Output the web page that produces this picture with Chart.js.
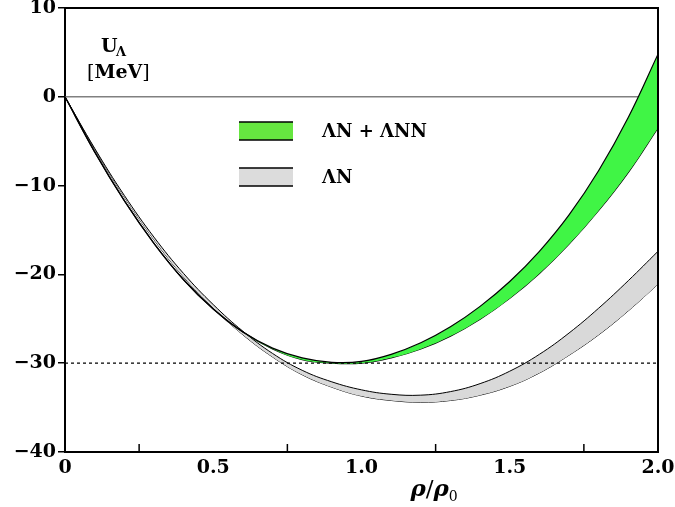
<!DOCTYPE html>
<html>
<head>
<meta charset="utf-8">
<script src="https://cdn.jsdelivr.net/npm/chart.js@4.4.1/dist/chart.umd.min.js"></script>
<style>
  html, body { margin: 0; padding: 0; background: #fff; }
  #wrap { width: 675px; height: 507px; }
</style>
</head>
<body>
<div id="wrap"><canvas id="myChart" width="675" height="507"></canvas></div>
<script>
// density rho/rho0
const rho = [0, 0.1, 0.2, 0.3, 0.4, 0.5, 0.6, 0.7, 0.8, 0.9, 1.0,
             1.1, 1.2, 1.3, 1.4, 1.5, 1.6, 1.7, 1.8, 1.9, 2.0];
// Lambda N + Lambda NN band (upper / lower edge), MeV
const lnnUpper = [0, -6.2, -11.7, -16.5, -20.6, -23.9, -26.5, -28.3, -29.4, -29.9, -29.8,
                  -29.0, -27.7, -25.9, -23.6, -20.8, -17.4, -13.3, -8.3, -2.3, 4.8];
const lnnLower = [0, -6.2, -11.7, -16.5, -20.6, -23.9, -26.5, -28.4, -29.6, -30.0, -30.0,
                  -29.4, -28.4, -26.95, -25.05, -22.7, -19.9, -16.6, -12.8, -8.5, -3.5];
// Lambda N band (upper / lower edge), MeV
const lnUpper = [0, -5.8, -11.1, -15.8, -19.9, -23.4, -26.4, -28.9, -30.8, -32.1, -33.0,
                 -33.5, -33.6, -33.2, -32.3, -30.9, -29.0, -26.6, -23.8, -20.7, -17.4];
const lnLower = [0, -5.9, -11.3, -16.1, -20.3, -23.8, -26.8, -29.3, -31.3, -32.7, -33.7,
                 -34.2, -34.4, -34.2, -33.6, -32.6, -31.1, -29.1, -26.8, -24.1, -21.1];
// reference lines
const refX = [0, 2];
const zeroLine = [0, 0];
const depthLine = [-30, -30];
// axis ticks
const xMinorTicks = [0.25, 0.75, 1.25, 1.75];

const FONT = "'DejaVu Serif', 'Liberation Serif', serif";
const pts = (xs, ys) => xs.map((x, i) => ({ x: x, y: ys[i] }));

const decorPlugin = {
  id: "decor",
  afterDraw(chart) {
    const ctx = chart.ctx;
    const a = chart.chartArea;
    const xs = chart.scales.x;
    ctx.save();
    // frame top + right
    ctx.strokeStyle = "#000";
    ctx.lineWidth = 2;
    ctx.beginPath();
    ctx.moveTo(a.left, a.top);
    ctx.lineTo(a.right, a.top);
    ctx.lineTo(a.right, a.bottom);
    ctx.stroke();
    // inner minor ticks on x axis
    ctx.lineWidth = 1.5;
    xMinorTicks.forEach(v => {
      const px = xs.getPixelForValue(v);
      ctx.beginPath();
      ctx.moveTo(px, a.bottom);
      ctx.lineTo(px, a.bottom - 8);
      ctx.stroke();
    });
    // y label
    ctx.fillStyle = "#000";
    ctx.textBaseline = "alphabetic";
    ctx.font = "bold 19px " + FONT;
    ctx.textAlign = "left";
    ctx.fillText("U", 101, 52);
    ctx.font = "bold 13px " + FONT;
    ctx.fillText("Λ", 116, 56);
    ctx.font = "19px " + FONT;
    const l1 = "[", l2 = "MeV", l3 = "]";
    let cx = 87;
    ctx.fillText(l1, cx, 78); cx += ctx.measureText(l1).width;
    ctx.font = "bold 19px " + FONT;
    ctx.fillText(l2, cx, 78); cx += ctx.measureText(l2).width;
    ctx.font = "19px " + FONT;
    ctx.fillText(l3, cx, 78);
    // x title rho/rho0
    const tx = xs.getPixelForValue(1.165);
    ctx.font = "italic bold 23px " + FONT;
    ctx.fillText("ρ", tx, 496);
    let w = ctx.measureText("ρ").width;
    ctx.font = "23px " + FONT;
    ctx.fillText("/", tx + w, 496);
    w += ctx.measureText("/").width;
    ctx.font = "italic bold 23px " + FONT;
    ctx.fillText("ρ", tx + w, 496);
    w += ctx.measureText("ρ").width;
    ctx.font = "14px " + FONT;
    ctx.fillText("0", tx + w, 501);
    // legend
    const items = [
      { fill: "#66e640", y: 122, text: "ΛN + ΛNN" },
      { fill: "#dcdcdc", y: 168, text: "ΛN" }
    ];
    items.forEach(it => {
      ctx.fillStyle = it.fill;
      ctx.fillRect(239, it.y, 54, 18);
      ctx.strokeStyle = "#000";
      ctx.lineWidth = 1.5;
      ctx.beginPath();
      ctx.moveTo(239, it.y); ctx.lineTo(293, it.y);
      ctx.moveTo(239, it.y + 18); ctx.lineTo(293, it.y + 18);
      ctx.stroke();
      ctx.fillStyle = "#000";
      ctx.font = "bold 18px " + FONT;
      ctx.textBaseline = "middle";
      ctx.fillText(it.text, 322, it.y + 10);
      ctx.textBaseline = "alphabetic";
    });
    ctx.restore();
  }
};

const ctx = document.getElementById("myChart").getContext("2d");
const myChart = new Chart(ctx, {
  type: "line",
  data: {
    datasets: [
      {
        label: "depth",
        data: pts(refX, depthLine),
        borderColor: "#000",
        borderWidth: 1.2,
        borderDash: [3, 3],
        pointRadius: 0,
        fill: false,
        order: 0
      },
      {
        label: "ΛN + ΛNN",
        data: pts(rho, lnnUpper),
        borderColor: "#000",
        borderWidth: 1.2,
        backgroundColor: "#40f545",
        pointRadius: 0,
        tension: 0.4,
        fill: "+1",
        order: 1
      },
      {
        label: "ΛN + ΛNN lower",
        data: pts(rho, lnnLower),
        borderColor: "#000",
        borderWidth: 1.2,
        pointRadius: 0,
        tension: 0.4,
        fill: false,
        order: 2
      },
      {
        label: "ΛN",
        data: pts(rho, lnUpper),
        borderColor: "#000",
        borderWidth: 1,
        backgroundColor: "#d9d9d9",
        pointRadius: 0,
        tension: 0.4,
        fill: "+1",
        order: 3
      },
      {
        label: "ΛN lower",
        data: pts(rho, lnLower),
        borderColor: "#000",
        borderWidth: 1,
        pointRadius: 0,
        tension: 0.4,
        fill: false,
        order: 4
      },
      {
        label: "zero",
        data: pts(refX, zeroLine),
        borderColor: "#808080",
        borderWidth: 1.5,
        pointRadius: 0,
        fill: false,
        order: 10
      }
    ]
  },
  options: {
    responsive: false,
    animation: false,
    layout: { padding: { top: 8, right: 17, left: 0, bottom: 0 } },
    plugins: {
      legend: { display: false },
      tooltip: { enabled: false }
    },
    scales: {
      x: {
        type: "linear",
        min: 0,
        max: 2,
        afterFit: s => { s.height = 55; s.paddingLeft = 0; s.paddingRight = 0; },
        ticks: {
          stepSize: 0.5,
          padding: 5,
          color: "#000",
          font: { family: FONT, size: 19, weight: "bold" },
          callback: v => (v === 0 ? "0" : v.toFixed(1))
        },
        grid: { display: true, drawOnChartArea: false, drawTicks: false },
        border: { display: true, color: "#000", width: 2 }
      },
      y: {
        min: -40,
        max: 10,
        afterFit: s => { s.width = 65; s.paddingTop = 0; s.paddingBottom = 0; },
        ticks: {
          stepSize: 10,
          padding: 2,
          color: "#000",
          font: { family: FONT, size: 19, weight: "bold" },
          callback: v => String(v).replace("-", "\u2212")
        },
        grid: { drawOnChartArea: false, drawTicks: true, tickLength: 7, color: "#000", lineWidth: 1.5 },
        border: { display: true, color: "#000", width: 2 }
      }
    }
  },
  plugins: [decorPlugin]
});
</script>
</body>
</html>
